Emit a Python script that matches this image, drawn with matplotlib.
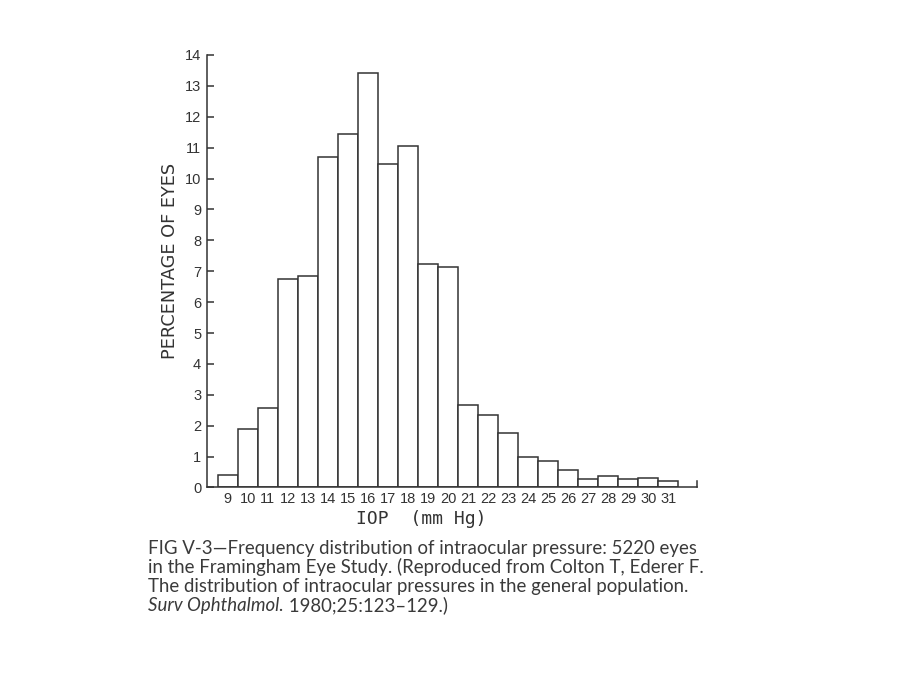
import matplotlib.pyplot as plt
import numpy as np

# IOP bins (mm Hg) and percentage of eyes
iop = [9, 10, 11, 12, 13, 14, 15, 16, 17, 18, 19, 20,
       21, 22, 23, 24, 25, 26, 27, 28, 29, 30, 31]
pct = [0.42, 1.89, 2.56, 6.74, 6.85, 10.69, 11.44, 13.41, 10.47, 11.04, 7.23, 7.14,
       2.66, 2.35, 1.75, 0.98, 0.87, 0.58, 0.29, 0.37, 0.27, 0.32, 0.22]
yticks = list(range(0, 15))
caption = ["FIG V-3\u2014Frequency distribution of intraocular pressure: 5220 eyes",
           "in the Framingham Eye Study. (Reproduced from Colton T, Ederer F.",
           "The distribution of intraocular pressures in the general population."]
caption_ital = "Surv Ophthalmol."
caption_end = " 1980;25:123\u2013129.)"

ink = '#333333'
cap_col = '#3a3a3a'
cap_size = 13.4

fig = plt.figure(figsize=(9.2, 6.9), dpi=100)
ax = fig.add_axes([0.2247, 0.2935, 0.5326, 0.6268])

ax.bar(iop, pct, width=1.0, color='white', edgecolor=ink, linewidth=1.1)

ax.set_xlim(7.95, 32.42)
ax.set_ylim(0, 14)
ax.spines['top'].set_visible(False)
ax.spines['right'].set_visible(False)
for s in ['left', 'bottom']:
    ax.spines[s].set_color(ink)
    ax.spines[s].set_linewidth(1.1)

ax.set_yticks(yticks)
ax.tick_params(axis='y', direction='in', length=5, width=1.1, color=ink,
               labelsize=10.5, labelcolor=ink, pad=4)
ax.set_xticks(iop)
ax.set_xticklabels([str(v) for v in iop])
ax.tick_params(axis='x', length=0, labelsize=10.5, labelcolor=ink, pad=3)
for lab in ax.get_xticklabels() + ax.get_yticklabels():
    lab.set_family('Liberation Sans')

# little end tick at the right of the axis
ax.plot([32.42, 32.42], [0, 0.22], color=ink, lw=1.1, clip_on=False)

ax.set_ylabel('PERCENTAGE OF EYES', family='DejaVu Sans', fontsize=12.8,
              color=ink, va='center')
ax.yaxis.set_label_coords(-0.075, 0.524)
ax.set_xlabel('IOP  (mm Hg)', family='DejaVu Sans Mono', fontsize=13,
              color=ink, va='center')
ax.xaxis.set_label_coords(0.437, -0.073)

# caption, one baseline per line
x0 = 148 / 920
ys = [554, 573, 592]
for line, yp in zip(caption, ys):
    fig.text(x0, 1 - yp / 690, line, family='Lato', fontsize=cap_size,
             color=cap_col, va='baseline', ha='left')
t = fig.text(x0, 1 - 611 / 690, caption_ital, family='Lato', style='italic',
             fontsize=cap_size, color=cap_col, va='baseline', ha='left')
fig.canvas.draw()
bb = t.get_window_extent()
fig.text(bb.x1 / 920, 1 - 611 / 690, caption_end, family='Lato', fontsize=cap_size,
         color=cap_col, va='baseline', ha='left')

fig.savefig('out.png', dpi=100, facecolor='white')
